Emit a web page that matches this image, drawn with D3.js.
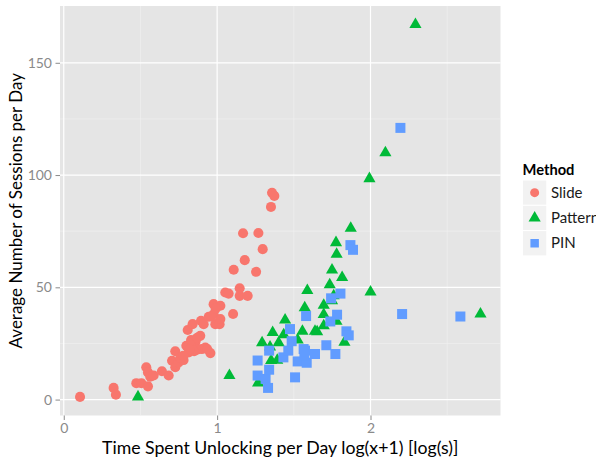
<!DOCTYPE html>
<html>
<head>
<meta charset="utf-8">
<script src="https://cdn.jsdelivr.net/npm/d3@7"></script>
<style>
  body { margin: 0; background: #fff; }
  svg { display: block; }
  text { font-family: Lato, "DejaVu Sans", sans-serif; }
</style>
</head>
<body>
<svg id="chart" width="596" height="462"></svg>
<script>
// ---- data ----
const methods = ["Slide", "Pattern", "PIN"];
const colors = ["#F8766D", "#00BA38", "#619CFF"];
const xTicks = [0, 1, 2];
const yTicks = [0, 50, 100, 150];
const xTitle = "Time Spent Unlocking per Day log(x+1) [log(s)]";
const yTitle = "Average Number of Sessions per Day";
const legendTitle = "Method";

const slideX = [0.106,0.325,0.34,0.473,0.506,0.538,0.549,0.549,0.564,0.586,0.64,0.684,0.706,0.727,0.727,0.749,0.781,0.799,0.814,0.808,0.84,0.858,0.869,0.89,0.9,0.923,0.956,0.895,0.912,0.945,0.977,0.988,1.016,1.021,0.977,1.021,1.104,1.053,1.075,1.147,1.147,1.199,1.108,1.254,1.18,1.169,1.269,1.297,1.351,1.358,1.373,0.76,0.83,0.87,0.85,0.935,0.96,0.99,0.82,0.78];
const slideY = [1.2,5.2,2.2,7.3,7.3,14.4,5.9,12.1,10.2,10.7,12.6,10.7,17.3,21.5,14.4,16.6,17.6,24,21,31,33.6,25.5,22.2,28.4,22.5,23.2,20.7,35.1,33.6,36.9,38,33.6,33.6,35.9,42.5,41.8,38.1,47.7,47.2,49.6,46.2,46.2,57.8,56.9,62.1,74.1,74.2,67,85.8,92.1,90.7,18.5,26.5,27.5,21.5,22.5,37,40.5,22.3,19.5];

const patternX = [0.484,1.08,1.267,1.293,1.345,1.362,1.401,1.434,1.443,1.525,1.556,1.352,1.392,1.571,1.588,1.638,1.652,1.695,1.695,1.695,1.734,1.749,1.76,1.749,1.775,1.779,1.778,1.815,1.83,1.871,1.993,2.0,2.097,2.293,2.717];
const patternY = [1.2,10.7,7.4,25.3,23.4,29.9,25.3,28.9,35.4,26.5,30.4,17.4,17.5,40.9,48.6,30.4,30.2,32.9,37.9,42,51.1,44,46.2,57.7,69.9,64.7,34.9,54.4,25.5,76.3,98.4,47.9,109.9,167,38.1];

const pinX = [1.264,1.264,1.316,1.332,1.339,1.339,1.432,1.464,1.475,1.486,1.508,1.525,1.573,1.58,1.584,1.564,1.569,1.638,1.712,1.738,1.743,1.782,1.771,1.804,1.843,1.858,1.869,1.886,2.195,2.206,2.586];
const pinY = [10.7,17.4,9.2,5.2,13.3,21.8,18.8,21.8,31.4,26,9.9,17,21.8,37.2,16.4,22.5,19.6,20.3,24.2,34.8,45.1,37.8,20.3,47.2,30.4,28.6,68.8,66.7,121,38.1,37];

const seriesX = [slideX, patternX, pinX];
const seriesY = [slideY, patternY, pinY];

// ---- layout ----
const svg = d3.select("#chart");
const panel = { left: 60, top: 6, right: 500.5, bottom: 415.5 };

const allX = [].concat(...seriesX), allY = [].concat(...seriesY);
function expand(ext) { const r = ext[1] - ext[0]; return [ext[0] - 0.05 * r, ext[1] + 0.05 * r]; }
const x = d3.scaleLinear().domain(expand(d3.extent(allX))).range([panel.left, panel.right]);
const y = d3.scaleLinear().domain(expand(d3.extent(allY))).range([panel.bottom, panel.top]);

// panel background
svg.append("rect").attr("x", panel.left).attr("y", panel.top)
  .attr("width", panel.right - panel.left).attr("height", panel.bottom - panel.top)
  .attr("fill", "#E5E5E5");

// minor grid
const xMinor = [0.5, 1.5, 2.5], yMinor = [25, 75, 125];
svg.append("g").selectAll("line").data(xMinor).join("line")
  .attr("x1", d => x(d)).attr("x2", d => x(d)).attr("y1", panel.top).attr("y2", panel.bottom)
  .attr("stroke", "#F2F2F2").attr("stroke-width", 0.6);
svg.append("g").selectAll("line").data(yMinor).join("line")
  .attr("y1", d => y(d)).attr("y2", d => y(d)).attr("x1", panel.left).attr("x2", panel.right)
  .attr("stroke", "#F2F2F2").attr("stroke-width", 0.6);
// major grid
svg.append("g").selectAll("line").data(xTicks).join("line")
  .attr("x1", d => x(d)).attr("x2", d => x(d)).attr("y1", panel.top).attr("y2", panel.bottom)
  .attr("stroke", "#FFFFFF").attr("stroke-width", 1.2);
svg.append("g").selectAll("line").data(yTicks).join("line")
  .attr("y1", d => y(d)).attr("y2", d => y(d)).attr("x1", panel.left).attr("x2", panel.right)
  .attr("stroke", "#FFFFFF").attr("stroke-width", 1.2);

// axes
const xAxis = svg.append("g").attr("transform", `translate(0,${panel.bottom})`)
  .call(d3.axisBottom(x).tickValues(xTicks).tickFormat(d3.format("d")).tickSize(4.5).tickPadding(3));
const yAxis = svg.append("g").attr("transform", `translate(${panel.left},0)`)
  .call(d3.axisLeft(y).tickValues(yTicks).tickFormat(d3.format("d")).tickSize(4.5).tickPadding(3.5));
[xAxis, yAxis].forEach(a => {
  a.select(".domain").remove();
  a.selectAll(".tick line").attr("stroke", "#8A8A8A").attr("stroke-width", 1);
  a.selectAll(".tick text").attr("fill", "#8A8A8A").style("font-size", "14px")
    .style("font-family", "Lato, 'DejaVu Sans', sans-serif");
});

// points
const shapes = [d3.symbolCircle, d3.symbolTriangle, d3.symbolSquare];
const sizes = [80, 64, 100];
methods.forEach((m, i) => {
  const pts = seriesX[i].map((v, j) => [v, seriesY[i][j]]);
  svg.append("g").selectAll("path").data(pts).join("path")
    .attr("transform", d => `translate(${x(d[0])},${y(d[1])})`)
    .attr("d", d3.symbol().type(shapes[i]).size(sizes[i])())
    .attr("fill", colors[i]);
});

// axis titles
svg.append("text").attr("x", (panel.left + panel.right) / 2).attr("y", 454)
  .attr("text-anchor", "middle").style("font-size", "17.7px").attr("fill", "#000")
  .text(xTitle);
svg.append("text").attr("transform", `translate(22,${(panel.top + panel.bottom) / 2}) rotate(-90)`)
  .attr("text-anchor", "middle").style("font-size", "17px").attr("fill", "#000")
  .text(yTitle);

// legend
const lg = svg.append("g");
lg.append("text").attr("x", 522.5).attr("y", 174.5).style("font-size", "14.7px")
  .style("font-weight", "bold").text(legendTitle);
const legendSizes = [64, 64, 72];
methods.forEach((m, i) => {
  const top = 180 + i * 25.3;
  lg.append("rect").attr("x", 522.5).attr("y", top).attr("width", 24.3).attr("height", 25.3)
    .attr("fill", "#F2F2F2").attr("stroke", "#FFFFFF").attr("stroke-width", 1);
  lg.append("path").attr("transform", `translate(${522.5 + 12.15},${top + 12.65})`)
    .attr("d", d3.symbol().type(shapes[i]).size(legendSizes[i])())
    .attr("fill", colors[i]);
  lg.append("text").attr("x", 551).attr("y", top + 17.8).style("font-size", "15px")
    .attr("fill", "#1A1A1A").text(m);
});
</script>
</body>
</html>
